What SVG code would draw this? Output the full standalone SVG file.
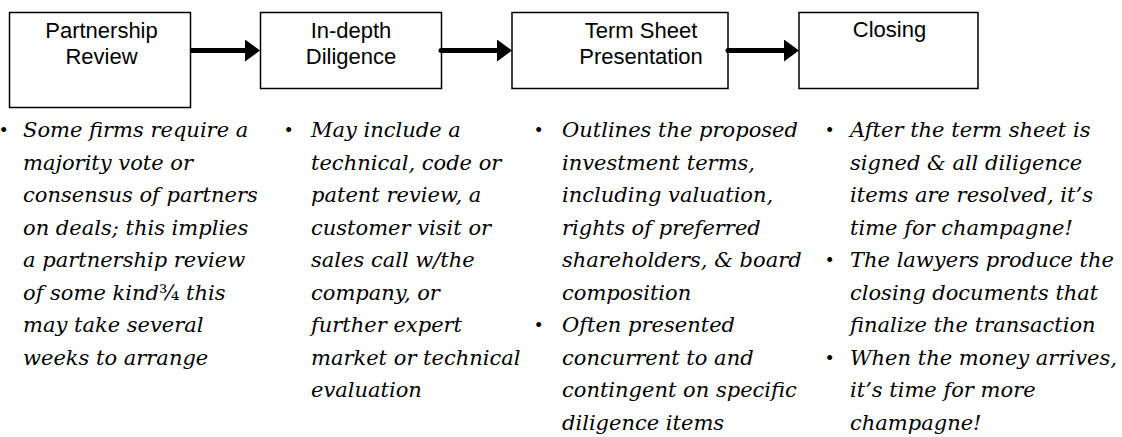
<svg xmlns="http://www.w3.org/2000/svg" width="1122" height="437" viewBox="0 0 1122 437">
  <style>
    .box { fill: #fff; stroke: #000; stroke-width: 1.5; }
    .label { font-family: "Liberation Sans", Arial, sans-serif; font-size: 22px; fill: #000; text-anchor: middle; }
    .note { font-family: "DejaVu Serif", serif; font-style: italic; font-size: 21px; fill: #000; }
    .dot { font-family: "Liberation Serif", serif; font-size: 21px; fill: #000; }
    .link { stroke: #000; stroke-width: 5; fill: none; marker-end: url(#head); }
    .round { stroke-linecap: round; }
  </style>
  <defs>
    <marker id="head" markerUnits="userSpaceOnUse" markerWidth="16" markerHeight="22" refX="0" refY="11" orient="auto">
      <path d="M0,0 L15,11 L0,22 Z" fill="#000"/>
    </marker>
  </defs>
  <rect width="1122" height="437" fill="#fff"/>

  <!-- process steps -->
  <g id="step-partnership-review">
    <rect class="box" x="9.5" y="12.5" width="181" height="95"/>
    <text class="label" x="101.5" y="37.5">Partnership</text>
    <text class="label" x="101.5" y="64">Review</text>
  </g>
  <g id="step-in-depth-diligence">
    <rect class="box" x="260.5" y="12.5" width="181" height="76"/>
    <text class="label" x="351" y="37.5">In-depth</text>
    <text class="label" x="351" y="64">Diligence</text>
  </g>
  <g id="step-term-sheet">
    <rect class="box" x="512" y="12.5" width="216" height="76"/>
    <text class="label" x="641" y="37.5">Term Sheet</text>
    <text class="label" x="641" y="64">Presentation</text>
  </g>
  <g id="step-closing">
    <rect class="box" x="799" y="12.5" width="179" height="76"/>
    <text class="label" x="889.5" y="37">Closing</text>
  </g>

  <!-- connectors -->
  <g id="connectors">
    <line class="link" x1="191" y1="50.5" x2="245" y2="50.5"/>
    <line class="link round" x1="441" y1="50.5" x2="497" y2="50.5"/>
    <line class="link round" x1="728" y1="50.5" x2="784" y2="50.5"/>
  </g>

  <!-- notes under each step -->
  <g id="notes-partnership-review">
    <text class="dot" x="0" y="137">•</text>
    <text class="note">
      <tspan x="23" y="137">Some firms require a</tspan>
      <tspan x="23" y="169.5">majority vote or</tspan>
      <tspan x="23" y="202">consensus of partners</tspan>
      <tspan x="23" y="234.5">on deals; this implies</tspan>
      <tspan x="23" y="267">a partnership review</tspan>
      <tspan x="23" y="299.5">of some kind<tspan font-style="normal">¾</tspan> this</tspan>
      <tspan x="23" y="332">may take several</tspan>
      <tspan x="23" y="364.5">weeks to arrange</tspan>
    </text>
  </g>
  <g id="notes-in-depth-diligence">
    <text class="dot" x="285" y="137">•</text>
    <text class="note">
      <tspan x="311" y="137">May include a</tspan>
      <tspan x="311" y="169.5">technical, code or</tspan>
      <tspan x="311" y="202">patent review, a</tspan>
      <tspan x="311" y="234.5">customer visit or</tspan>
      <tspan x="311" y="267">sales call w/the</tspan>
      <tspan x="311" y="299.5">company, or</tspan>
      <tspan x="311" y="332">further expert</tspan>
      <tspan x="311" y="364.5">market or technical</tspan>
      <tspan x="311" y="397">evaluation</tspan>
    </text>
  </g>
  <g id="notes-term-sheet">
    <text class="dot" x="535" y="137">•</text>
    <text class="dot" x="535" y="332">•</text>
    <text class="note">
      <tspan x="562" y="137">Outlines the proposed</tspan>
      <tspan x="562" y="169.5">investment terms,</tspan>
      <tspan x="562" y="202">including valuation,</tspan>
      <tspan x="562" y="234.5">rights of preferred</tspan>
      <tspan x="562" y="267">shareholders, &amp; board</tspan>
      <tspan x="562" y="299.5">composition</tspan>
      <tspan x="562" y="332">Often presented</tspan>
      <tspan x="562" y="364.5">concurrent to and</tspan>
      <tspan x="562" y="397">contingent on specific</tspan>
      <tspan x="562" y="429.5">diligence items</tspan>
    </text>
  </g>
  <g id="notes-closing">
    <text class="dot" x="826" y="137">•</text>
    <text class="dot" x="826" y="267">•</text>
    <text class="dot" x="826" y="364.5">•</text>
    <text class="note">
      <tspan x="850" y="137">After the term sheet is</tspan>
      <tspan x="850" y="169.5">signed &amp; all diligence</tspan>
      <tspan x="850" y="202">items are resolved, it’s</tspan>
      <tspan x="850" y="234.5">time for champagne!</tspan>
      <tspan x="850" y="267">The lawyers produce the</tspan>
      <tspan x="850" y="299.5">closing documents that</tspan>
      <tspan x="850" y="332">finalize the transaction</tspan>
      <tspan x="850" y="364.5">When the money arrives,</tspan>
      <tspan x="850" y="397">it’s time for more</tspan>
      <tspan x="850" y="429.5">champagne!</tspan>
    </text>
  </g>
</svg>
